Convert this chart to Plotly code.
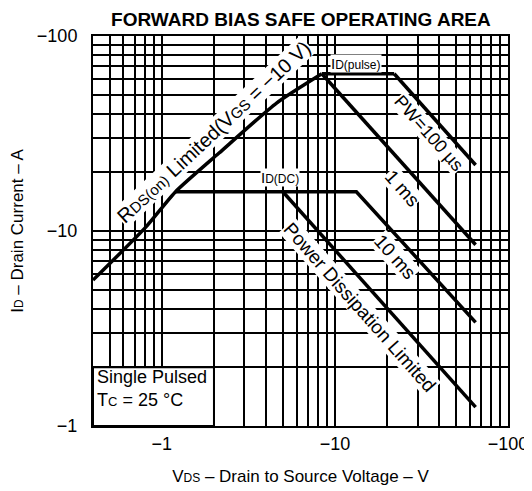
import numpy as np
import plotly.graph_objects as go

# ---- data (magnitudes; axis labels show negative values) ----
rds_v = [0.4, 0.81, 1.2, 2.14, 4.6, 8.4]
rds_i = [5.6, 10.5, 15.9, 25.1, 45.3, 64.0]

pulse_v = [8.4, 22.0]
pulse_i = [64.0, 64.0]

pw100_v = [22.0, 65.0]
pw100_i = [64.0, 21.8]

ms1_v = [8.4, 65.0]
ms1_i = [64.0, 8.5]

dc_v = [1.2, 5.0]
dc_i = [15.9, 15.9]

ms10_v = [5.0, 13.3, 65.0]
ms10_i = [15.9, 15.9, 3.4]

pd_v = [5.0, 65.0]
pd_i = [15.9, 1.25]

x_major = [1, 10, 100]
x_major_text = ["\u22121", "\u221210", "\u2212100"]
y_major = [1, 10, 100]
y_major_text = ["\u22121", "\u221210", "\u2212100"]
x_minor = [0.5, 0.6, 0.7, 0.8, 0.9, 2, 3, 4, 5, 6, 7, 8, 9,
           20, 30, 40, 50, 60, 70, 80, 90]
y_minor = [2, 3, 4, 5, 6, 7, 8, 9, 20, 30, 40, 50, 60, 70, 80, 90]

FONT = "Liberation Sans, Arial, Helvetica, sans-serif"
LW = 3.5

fig = go.Figure()
fig.add_trace(go.Scatter(x=rds_v, y=rds_i, mode="lines",
                         line=dict(color="black", width=LW, shape="spline", smoothing=0.6),
                         showlegend=False, hoverinfo="skip"))
for xs, ys in [(pulse_v, pulse_i), (pw100_v, pw100_i),
               (ms1_v, ms1_i), (dc_v, dc_i), (ms10_v, ms10_i), (pd_v, pd_i)]:
    fig.add_trace(go.Scatter(x=xs, y=ys, mode="lines",
                             line=dict(color="black", width=LW),
                             showlegend=False, hoverinfo="skip"))

def sm(t, size=13):
    return f"<span style='font-size:{size}px'>{t}</span>"

def L(v):
    return float(np.log10(v))

ann = [
    dict(x=L(1.99), y=L(32.1), text="R" + sm("DS(on)", 15) + " Limited(V" + sm("GS", 15) + " = \u221210 V)",
         textangle=-43, size=20),
    dict(x=L(34.8), y=L(31.8), text="PW=100 \u00b5s", textangle=48.5, size=18),
    dict(x=L(24.6), y=L(16.6), text="1 ms", textangle=48.5, size=19),
    dict(x=L(22.1), y=L(7.36), text="10 ms", textangle=48.5, size=19),
    dict(x=L(13.9), y=L(4.03), text="Power Dissipation Limited", textangle=48.5, size=19),
]
for a in ann:
    fig.add_annotation(x=a["x"], y=a["y"], xref="x", yref="y", text=a["text"],
                       textangle=a["textangle"], showarrow=False, bgcolor="white",
                       borderpad=0,
                       font=dict(family=FONT, size=a["size"], color="black"))

fig.add_annotation(x=L(13.3), y=L(72.7), xref="x", yref="y",
                   text="I" + sm("D(pulse)", 12), showarrow=False, bgcolor="white",
                   borderpad=0, font=dict(family=FONT, size=15, color="black"))
fig.add_annotation(x=L(4.8), y=L(18.9), xref="x", yref="y",
                   text="I" + sm("D(DC)", 12), showarrow=False, bgcolor="white",
                   borderpad=0, font=dict(family=FONT, size=15, color="black"))

# box for "Single Pulsed" note
box_x = [0.4, 2.0]
box_y = [1.0, 2.0]
fig.add_shape(type="rect", xref="x", yref="y", x0=box_x[0], x1=box_x[1],
              y0=box_y[0], y1=box_y[1], fillcolor="white",
              line=dict(color="black", width=2), layer="between")
fig.add_annotation(x=L(0.41), y=L(1.55), xref="x", yref="y", xanchor="left",
                   align="left", showarrow=False,
                   text="Single Pulsed<br>T" + sm("C", 13) + " = 25 \u00b0C",
                   font=dict(family=FONT, size=18, color="black"))

fig.update_xaxes(type="log", range=[L(0.4), 2], tickvals=x_major, ticktext=x_major_text,
                 automargin=False, ticklabeloverflow="allow",
                 showgrid=True, gridcolor="black", gridwidth=2,
                 minor=dict(tickvals=x_minor, showgrid=True, gridcolor="black", gridwidth=1.5),
                 showline=True, mirror=True, linecolor="black", linewidth=2,
                 ticks="", ticklabelstandoff=0, zeroline=False,
                 tickfont=dict(family=FONT, size=18, color="black"),
                 title=dict(text="V" + sm("DS", 12) + " \u2013 Drain to Source Voltage \u2013 V",
                            font=dict(family=FONT, size=17, color="black"), standoff=18))
fig.update_yaxes(type="log", range=[0, 2], tickvals=y_major, ticktext=y_major_text,
                 automargin=False, ticklabeloverflow="allow",
                 showgrid=True, gridcolor="black", gridwidth=2,
                 minor=dict(tickvals=y_minor, showgrid=True, gridcolor="black", gridwidth=1.5),
                 showline=True, mirror=True, linecolor="black", linewidth=2,
                 ticks="", ticklabelstandoff=10, zeroline=False,
                 tickfont=dict(family=FONT, size=18, color="black"),
                 title=dict(text="I" + sm("D", 12) + " \u2013 Drain Current \u2013 A",
                            font=dict(family=FONT, size=17, color="black"), standoff=16))

# page body adds an 8px margin, so the figure is sized/positioned to compensate
fig.update_layout(
    width=524, height=483,
    margin=dict(l=85, r=24, t=28, b=65),
    paper_bgcolor="white", plot_bgcolor="white",
    title=dict(text="<b>FORWARD BIAS SAFE OPERATING AREA</b>", x=0.559, xanchor="center",
               y=0.976, yanchor="middle",
               font=dict(family=FONT, size=19, color="black")),
)

fig.write_html("out.html")
